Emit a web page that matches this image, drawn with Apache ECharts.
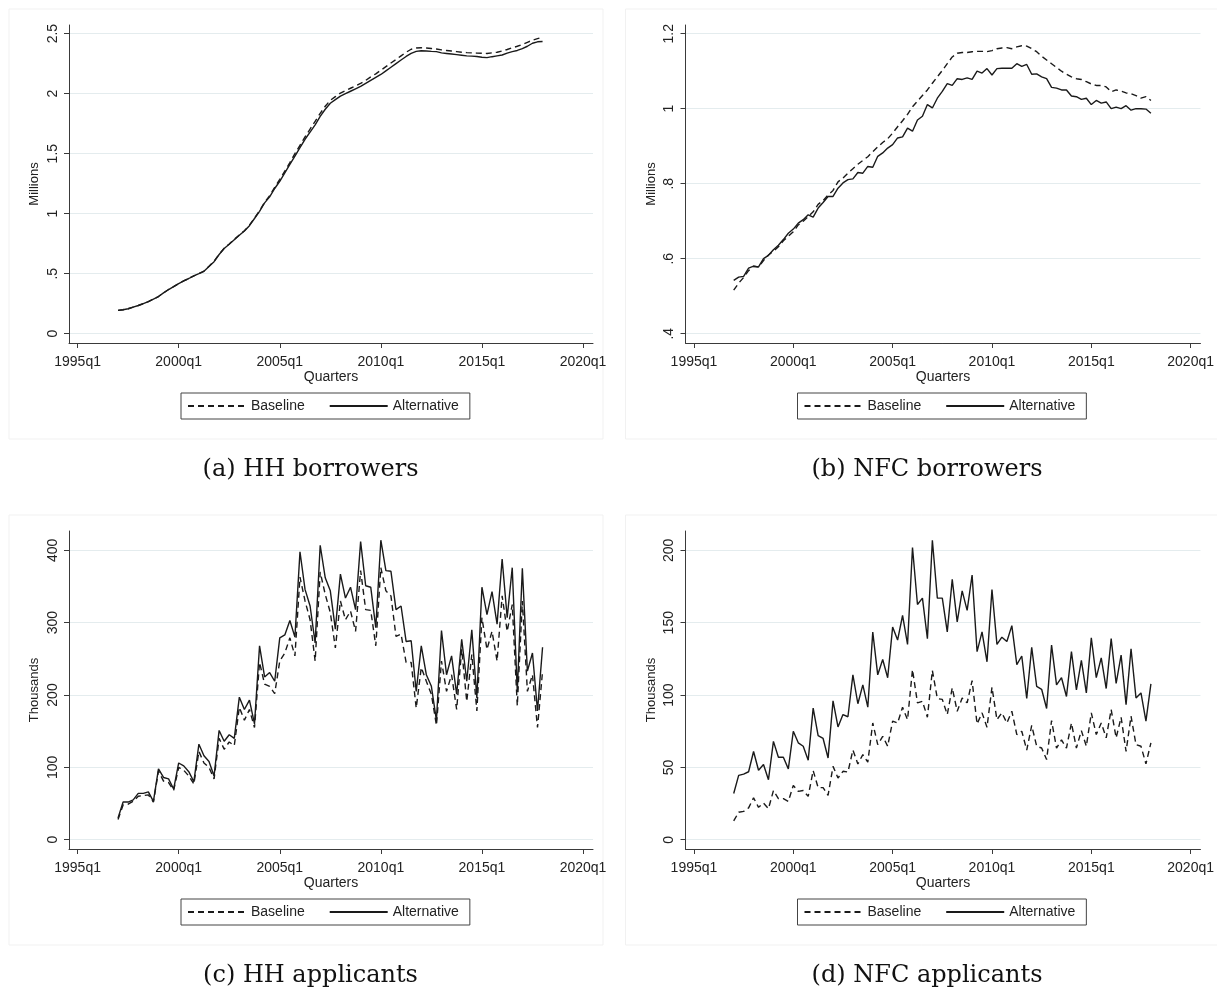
<!DOCTYPE html>
<html>
<head>
<meta charset="utf-8">
<title>Borrowers and applicants</title>
<script src="https://cdn.jsdelivr.net/npm/echarts@6/dist/echarts.min.js"></script>
<style>
  html, body { margin: 0; padding: 0; background: #fff; }
  #chart { width: 1217px; height: 989px; }
</style>
</head>
<body>
<div id="chart"></div>
<script>
// quarters 1997q1 .. 2018q1
var firstYear = 1997, lastYear = 2018;
var quarters = [];
for (var y = firstYear; y <= lastYear; y++) {
  for (var q = 1; q <= 4; q++) {
    if (y === lastYear && q > 1) break;
    quarters.push(y + 'q' + q);
  }
}
var xTicks = [1995, 2000, 2005, 2010, 2015, 2020];

// (a) HH borrowers, millions
var hhBorrowBase = [
  0.194, 0.200, 0.208, 0.222, 0.235, 0.250, 0.268, 0.289, 0.310, 0.340, 0.368, 0.392,
  0.418, 0.440, 0.460, 0.482, 0.500, 0.522, 0.562, 0.603, 0.662, 0.712, 0.748, 0.786,
  0.823, 0.858, 0.904, 0.964, 1.025, 1.095, 1.150, 1.220, 1.285, 1.355, 1.425, 1.500,
  1.570, 1.640, 1.705, 1.770, 1.835, 1.895, 1.945, 1.975, 2.005, 2.025, 2.045, 2.065,
  2.085, 2.110, 2.140, 2.165, 2.195, 2.225, 2.255, 2.285, 2.315, 2.345, 2.370, 2.380,
  2.382, 2.380, 2.376, 2.372, 2.365, 2.360, 2.355, 2.350, 2.345, 2.342, 2.340, 2.338,
  2.336, 2.335, 2.340, 2.345, 2.355, 2.368, 2.382, 2.395, 2.410, 2.428, 2.445, 2.458,
  2.470
];
var hhBorrowAlt = [
  0.194, 0.200, 0.208, 0.222, 0.235, 0.250, 0.268, 0.289, 0.310, 0.340, 0.368, 0.392,
  0.418, 0.440, 0.460, 0.482, 0.500, 0.520, 0.560, 0.600, 0.660, 0.710, 0.745, 0.783,
  0.820, 0.855, 0.900, 0.960, 1.020, 1.090, 1.140, 1.210, 1.270, 1.340, 1.410, 1.480,
  1.550, 1.620, 1.680, 1.740, 1.810, 1.870, 1.920, 1.950, 1.980, 2.000, 2.020, 2.040,
  2.060, 2.085, 2.110, 2.135, 2.160, 2.190, 2.220, 2.250, 2.280, 2.310, 2.335, 2.352,
  2.358, 2.355, 2.352, 2.350, 2.340, 2.335, 2.330, 2.325, 2.320, 2.315, 2.313, 2.310,
  2.303, 2.300, 2.308, 2.315, 2.322, 2.338, 2.350, 2.360, 2.375, 2.395, 2.420, 2.432,
  2.435
];

// (b) NFC borrowers, millions
var nfcBorrowBase = [
  0.516, 0.535, 0.550, 0.568, 0.580, 0.578, 0.595, 0.610, 0.620, 0.632, 0.648, 0.660,
  0.672, 0.690, 0.700, 0.712, 0.725, 0.745, 0.755, 0.770, 0.782, 0.805, 0.815, 0.828,
  0.840, 0.852, 0.862, 0.872, 0.885, 0.898, 0.910, 0.920, 0.935, 0.952, 0.968, 0.985,
  1.005, 1.020, 1.035, 1.050, 1.068, 1.085, 1.102, 1.120, 1.138, 1.148, 1.150, 1.150,
  1.152, 1.153, 1.153, 1.152, 1.155, 1.160, 1.162, 1.163, 1.160, 1.165, 1.168, 1.167,
  1.160, 1.152, 1.140, 1.130, 1.120, 1.110, 1.100, 1.092, 1.085, 1.080, 1.078, 1.072,
  1.066, 1.062, 1.062, 1.058, 1.045, 1.050, 1.047, 1.042, 1.040, 1.035, 1.028, 1.032,
  1.022
];
var nfcBorrowAlt = [
  0.542, 0.551, 0.553, 0.575, 0.580, 0.578, 0.600, 0.609, 0.624, 0.636, 0.651, 0.668,
  0.679, 0.695, 0.704, 0.717, 0.711, 0.735, 0.750, 0.766, 0.766, 0.788, 0.802, 0.811,
  0.813, 0.830, 0.828, 0.846, 0.844, 0.873, 0.882, 0.895, 0.904, 0.922, 0.925, 0.948,
  0.940, 0.970, 0.980, 1.011, 1.002, 1.028, 1.046, 1.067, 1.062, 1.080, 1.078, 1.082,
  1.078, 1.100, 1.095, 1.107, 1.090, 1.107, 1.108, 1.108, 1.108, 1.120, 1.113, 1.118,
  1.092, 1.093, 1.085, 1.080, 1.057, 1.055, 1.050, 1.050, 1.034, 1.032, 1.025, 1.028,
  1.011, 1.022, 1.015, 1.018, 1.000, 1.004, 1.000, 1.008, 0.996, 1.000, 1.000, 0.999,
  0.988
];

// (c) HH applicants, thousands
var hhApplBase = [
  28, 48, 49, 53, 60, 61, 62, 52, 95, 81, 79, 68,
  100, 96, 88, 77, 122, 106, 100, 84, 140, 125, 135, 130,
  183, 165, 180, 155, 245, 215, 212, 202, 247, 258, 279, 254,
  363, 330, 304, 247, 370, 339, 314, 265, 330, 304, 316, 288,
  372, 318, 317, 268, 376, 344, 337, 281, 284, 245, 245, 182,
  238, 219, 201, 158, 247, 205, 228, 180, 263, 191, 256, 178,
  307, 263, 288, 247, 337, 288, 325, 185, 330, 205, 228, 155,
  233
];
var hhApplAlt = [
  30, 52, 52, 55, 64, 64, 66, 53, 98, 86, 84, 70,
  106, 102, 94, 80, 132, 116, 108, 88, 151, 136, 145, 140,
  197, 180, 193, 160, 268, 225, 231, 219, 279, 283, 303, 280,
  398, 346, 323, 272, 407, 362, 344, 291, 367, 334, 349, 318,
  412, 351, 349, 293, 414, 372, 371, 318, 323, 274, 275, 205,
  268, 228, 212, 165, 289, 228, 254, 201, 277, 219, 290, 196,
  349, 311, 343, 298, 388, 307, 376, 205, 375, 233, 258, 178,
  266
];

// (d) NFC applicants, thousands
var nfcApplBase = [
  13, 19, 19.6, 22, 29, 22.4, 25.4, 21.5, 34, 28.4, 28.4, 26.5,
  37.6, 33.4, 34, 30, 47.8, 36, 36, 30.7, 50.7, 42.7, 47.3, 46.8,
  62, 52.4, 58.8, 53.7, 80.7, 65.7, 71.5, 64.6, 82, 80.7, 91.6, 83,
  117.6, 94.6, 95.7, 84.7, 117, 97.6, 97, 86.5, 105, 88.8, 98, 94.6,
  110, 80, 87.7, 77.7, 105.4, 83, 87.7, 80.7, 88.8, 72.7, 75, 62,
  79, 64.6, 63.4, 55.4, 82.4, 63.4, 69, 63.4, 80.7, 63.4, 75.4, 64.6,
  87.7, 72.7, 80.7, 70.4, 90, 70.4, 84.7, 61, 85.4, 65.7, 64.6, 52.4,
  67
];
var nfcApplAlt = [
  32, 44.5, 45.4, 47, 61, 48, 52, 41.5, 68, 57, 57, 49,
  75, 67, 64.6, 55, 91, 72, 70, 56.5, 96, 78, 86.5, 85,
  114, 94, 107, 91.6, 143.5, 114, 124.6, 112, 147, 138, 155, 135,
  202, 162.6, 167, 139, 207, 167, 167, 143.7, 180, 150.6, 172, 158.5,
  183, 130, 143.7, 123, 173, 135, 140, 137, 148, 121, 127, 97.6,
  133, 106, 104, 90.7, 134.5, 107, 112, 99, 130, 103.6, 124, 101.5,
  139.6, 112, 125.7, 104.5, 139, 108, 127.6, 93.4, 132, 98, 101.5, 82,
  107.7
];

var panels = [
  { caption: '(a) HH borrowers', unit: 'Millions', base: hhBorrowBase, alt: hhBorrowAlt,
    ticks: [0, 0.5, 1, 1.5, 2, 2.5], min: -0.0774, max: 2.572, dx: 0, dy: 0 },
  { caption: '(b) NFC borrowers', unit: 'Millions', base: nfcBorrowBase, alt: nfcBorrowAlt,
    ticks: [0.4, 0.6, 0.8, 1, 1.2], min: 0.3752, max: 1.2232, dx: 616.5, dy: 0 },
  { caption: '(c) HH applicants', unit: 'Thousands', base: hhApplBase, alt: hhApplAlt,
    ticks: [0, 100, 200, 300, 400], min: -12.9, max: 426.7, dx: 0, dy: 506 },
  { caption: '(d) NFC applicants', unit: 'Thousands', base: nfcApplBase, alt: nfcApplAlt,
    ticks: [0, 50, 100, 150, 200], min: -6.4, max: 213.4, dx: 616.5, dy: 506 }
];

function quarterPos(label) {
  var parts = label.split('q');
  return +parts[0] + (+parts[1] - 1) / 4;
}

function pairs(values) {
  return quarters.map(function (qq, i) { return [quarterPos(qq), values[i]]; });
}

function stataNum(v) {
  return String(v).replace(/^0\./, '.');
}

var font = "'Liberation Sans', Arial, sans-serif";
var ink = '#1a1a1a';
var axisColor = '#3a3a3a';

var option = {
  animation: false,
  backgroundColor: '#fff',
  textStyle: { fontFamily: font },
  title: [],
  legend: [],
  grid: [],
  xAxis: [],
  yAxis: [],
  series: [],
  graphic: []
};

panels.forEach(function (p, k) {
  option.graphic.push({
    type: 'rect',
    shape: { x: 9 + p.dx, y: 9 + p.dy, width: 594, height: 430 },
    style: { fill: 'none', stroke: '#f1f1f1', lineWidth: 1 },
    silent: true
  });

  option.grid.push({ left: 69 + p.dx, top: 25 + p.dy, width: 524, height: 318, containLabel: false });

  option.xAxis.push({
    type: 'value', gridIndex: k, min: 1994.574, max: 2020.495,
    name: 'Quarters', nameLocation: 'middle', nameGap: 27,
    nameTextStyle: { fontSize: 14, color: '#222', fontFamily: font },
    axisLine: { show: true, onZero: false, lineStyle: { color: axisColor, width: 1 } },
    axisTick: { show: true, length: 5, customValues: xTicks, lineStyle: { color: axisColor } },
    axisLabel: {
      customValues: xTicks, fontSize: 14, color: '#222', margin: 12,
      formatter: function (v) { return Math.round(v) + 'q1'; }
    },
    splitLine: { show: false }
  });

  option.yAxis.push({
    type: 'value', gridIndex: k, min: p.min, max: p.max,
    name: p.unit, nameLocation: 'middle', nameGap: 28, nameRotate: 90,
    nameTextStyle: { fontSize: 13, color: '#222', fontFamily: font },
    axisLine: { show: true, onZero: false, lineStyle: { color: axisColor, width: 1 } },
    axisTick: { show: true, length: 5, customValues: p.ticks, lineStyle: { color: axisColor } },
    axisLabel: {
      customValues: p.ticks, rotate: 90, fontSize: 14, color: '#222', margin: 9,
      formatter: stataNum
    },
    splitLine: { show: true, lineStyle: { color: '#e4ecee', width: 1.2 } }
  });

  option.series.push({
    name: 'Baseline', type: 'line', xAxisIndex: k, yAxisIndex: k,
    data: pairs(p.base), symbol: 'none', silent: true,
    lineStyle: { color: ink, width: 1.4, type: [6, 4] }, itemStyle: { color: ink }
  });
  option.series.push({
    name: 'Alternative', type: 'line', xAxisIndex: k, yAxisIndex: k,
    data: pairs(p.alt), symbol: 'none', silent: true,
    lineStyle: { color: ink, width: 1.4 }, itemStyle: { color: ink }
  });

  option.legend.push({
    data: ['Baseline', 'Alternative'],
    left: 181 + p.dx, top: 393 + p.dy,
    orient: 'horizontal', itemWidth: 58, itemHeight: 14, itemGap: 24,
    padding: [6, 11, 6, 6], borderColor: '#444', borderWidth: 1,
    itemStyle: { opacity: 0 },
    textStyle: { fontSize: 14, color: '#222', fontFamily: font },
    selectedMode: false
  });

  option.title.push({
    text: p.caption, left: 305.5 + p.dx, top: 453 + p.dy, textAlign: 'center',
    textStyle: { fontFamily: "'DejaVu Serif', serif", fontSize: 24, fontWeight: 'normal', color: '#111' }
  });
});

var chart = echarts.init(document.getElementById('chart'));
chart.setOption(option);
</script>
</body>
</html>
